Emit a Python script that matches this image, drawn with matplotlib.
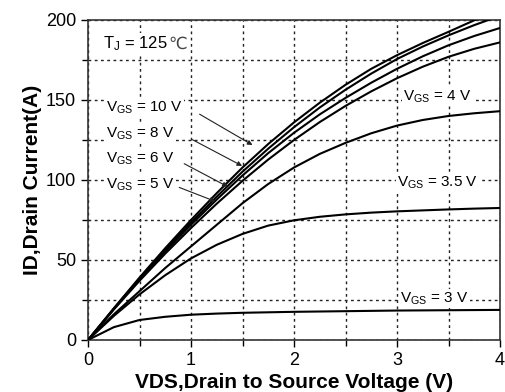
import matplotlib
matplotlib.use("Agg")
import matplotlib.pyplot as plt

### data
vds = [0, 0.25, 0.5, 0.75, 1, 1.25, 1.5, 1.75, 2, 2.25, 2.5, 2.75, 3, 3.25, 3.5, 3.75, 4]

id_vgs10 = [0, 19.8, 39, 57.4, 75, 91.8, 107.8, 122.5, 136, 148.3, 159.5, 169.5, 178, 185.6, 192.6, 199.8, 206.5]
id_vgs8 = [0, 19.5, 38.5, 56.4, 73.4, 89.6, 105.2, 119.6, 133, 145.3, 156.4, 166.5, 175.6, 183.4, 190.4, 196.8, 202.6]
id_vgs6 = [0, 19.3, 38, 55.5, 72, 87.8, 102.8, 116.8, 129.5, 141, 151.3, 160.8, 169.5, 177.3, 184.2, 190, 195]
id_vgs5 = [0, 19, 37, 54, 70, 85.2, 99.5, 112.8, 125, 136.2, 146.3, 155.4, 163.6, 170.8, 177, 182, 186]
id_vgs4 = [0, 16, 30.5, 45, 58.5, 72, 85.5, 97.5, 107.8, 116.3, 123.2, 129.2, 134, 137.5, 140, 141.7, 143]
id_vgs35 = [0, 15, 28.5, 40.5, 51, 59.5, 66.3, 71.5, 74.8, 77, 78.5, 79.6, 80.4, 81, 81.6, 82.1, 82.5]
id_vgs3 = [0, 8, 12.5, 14.5, 15.8, 16.5, 17, 17.3, 17.6, 17.8, 18, 18.2, 18.4, 18.5, 18.6, 18.7, 18.8]

curves = [id_vgs10, id_vgs8, id_vgs6, id_vgs5, id_vgs4, id_vgs35, id_vgs3]

xticks = [0, 1, 2, 3, 4]
yticks = [0, 50, 100, 150, 200]

plt.rcParams["font.family"] = ["Liberation Sans", "DejaVu Sans"]
plt.rcParams["mathtext.fontset"] = "custom"
plt.rcParams["mathtext.rm"] = "Liberation Sans"
plt.rcParams["mathtext.it"] = "Liberation Sans"

fig = plt.figure(figsize=(5.05, 3.92), dpi=100)
fig.patch.set_facecolor("#fff")
ax = fig.add_axes([0.1743, 0.1327, 0.8158, 0.8163])

for c in curves:
    ax.plot(vds, c, color="black", lw=1.5, zorder=3)

ax.set_xlim(0, 4)
ax.set_ylim(0, 200)
ax.set_xticks(xticks)
ax.set_yticks(yticks)
ax.set_xticks([0.5, 1.5, 2.5, 3.5], minor=True)
ax.set_yticks([25, 75, 125, 175], minor=True)
ax.grid(which="both", color="#222", lw=1.0, linestyle=(0, (2, 2.5)), zorder=1)
ax.tick_params(axis="both", which="major", labelsize=13, length=5, width=1, direction="out")
ax.tick_params(axis="both", which="minor", length=4, width=1, direction="out")
for sp in ax.spines.values():
    sp.set_linewidth(1.2)
    sp.set_color("#333")

ax.set_xlabel("VDS,Drain to Source Voltage (V)", fontsize=15, fontweight="bold", labelpad=3)
ax.set_ylabel("ID,Drain Current(A)", fontsize=15, fontweight="bold", labelpad=3)

box = dict(facecolor="white", edgecolor="none", pad=1)
tj = ax.text(0.15, 185, "T$_\\mathrm{J}$ = 125 ", fontsize=12, va="center", bbox=box, zorder=4)
ax.annotate("℃", xy=(1, 0.5), xycoords=tj, va="center", ha="left",
            fontsize=12, family="DejaVu Sans", color="#444", zorder=4)

left_labels = [("10", 145, (1.06, 142), (1.62, 121)),
               ("8", 129, (0.99, 126), (1.52, 108)),
               ("6", 113, (0.91, 111), (1.38, 95)),
               ("5", 97, (0.86, 96), (1.26, 86))]
for v, y, p0, p1 in left_labels:
    ax.text(0.17, y, "V$_\\mathrm{GS}$ = " + v + " V", fontsize=11, va="center",
            bbox=box, zorder=4)
    ax.annotate("", xy=p1, xytext=p0,
                arrowprops=dict(arrowstyle="-|>", color="#222", lw=0.8,
                                mutation_scale=7), zorder=4)

ax.text(3.06, 152, "V$_\\mathrm{GS}$ = 4 V", fontsize=11, va="center", bbox=box, zorder=4)
ax.text(3.0, 98, "V$_\\mathrm{GS}$ = 3.5 V", fontsize=11, va="center", bbox=box, zorder=4)
ax.text(3.03, 26, "V$_\\mathrm{GS}$ = 3 V", fontsize=11, va="center", bbox=box, zorder=4)

fig.savefig("out.png", dpi=100)
